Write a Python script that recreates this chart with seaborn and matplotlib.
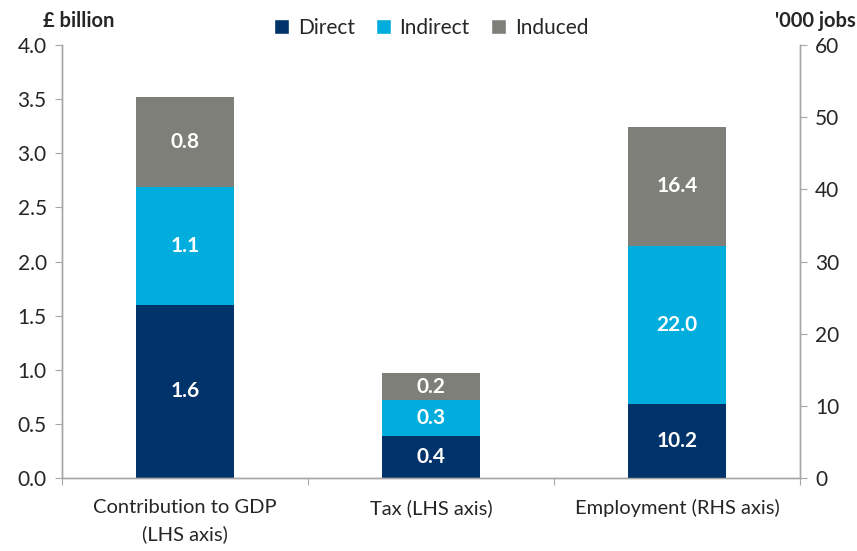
import numpy as np
import pandas as pd
import matplotlib
matplotlib.use('Agg')
import matplotlib.pyplot as plt
import seaborn as sns
from matplotlib.patches import Patch

# dados
categorias = ['Contribution to GDP\n(LHS axis)', 'Tax (LHS axis)', 'Employment (RHS axis)']
componentes = ['Direct', 'Indirect', 'Induced']
direct = [1.60, 0.39, 10.2]
indirect = [1.09, 0.33, 22.0]
induced = [0.83, 0.25, 16.4]
eixo_direito = [False, False, True]
cores = ['#00336A', '#00ADDD', '#7F7F7A']

sns.set_style('white')
plt.rcParams['font.family'] = ['Lato', 'DejaVu Sans']

fig = plt.figure(figsize=(8.57, 5.51), dpi=100)
ax = fig.add_axes([62 / 857, 1 - 478 / 551, 738 / 857, 433 / 551])
ax2 = ax.twinx()

valores = np.array([direct, indirect, induced])
direita = np.array(eixo_direito)

for eixo, mascara in [(ax, ~direita), (ax2, direita)]:
    base = np.zeros(len(categorias))
    for i, nome in enumerate(componentes):
        v = np.where(mascara, valores[i], 0.0)
        df = pd.DataFrame({'cat': categorias, 'val': v})
        sns.barplot(data=df, x='cat', y='val', order=categorias, color=cores[i],
                    saturation=1, width=0.4, bottom=base, ax=eixo, errorbar=None,
                    linewidth=0, edgecolor='none')
        for j in range(len(categorias)):
            if mascara[j]:
                eixo.text(j, base[j] + v[j] / 2, f'{v[j]:.1f}', ha='center', va='center',
                          color='white', fontweight='bold', fontsize=15)
        base = base + v

ax.set_ylim(0, 4)
ax2.set_ylim(0, 60)
ax.set_xlim(-0.5, 2.5)
ax.set_yticks(np.arange(0, 4.01, 0.5))
ax.set_yticklabels([f'{t:.1f}' for t in np.arange(0, 4.01, 0.5)])
ax2.set_yticks(np.arange(0, 61, 10))

# ticks do eixo x nas fronteiras das categorias
ax.set_xticks([-0.5, 0.5, 1.5, 2.5])
ax.set_xticklabels([])
ax.set_xticks([0, 1, 2], minor=True)
ax.set_xticklabels(categorias, minor=True, fontsize=14.5)
ax.tick_params(axis='x', which='minor', length=0, pad=15)
ax.tick_params(axis='x', which='major', length=5, color='#A6A6A6', direction='out', bottom=True)
ax.set_xlabel('')
ax.set_ylabel('')
ax2.set_xlabel('')
ax2.set_ylabel('')

ax.tick_params(axis='y', labelsize=15, length=5, color='#A6A6A6', direction='out', left=True, pad=6)
ax2.tick_params(axis='y', labelsize=15, length=5, color='#A6A6A6', direction='out', right=True, pad=6)

for a in [ax, ax2]:
    a.spines['top'].set_visible(False)
    for lado in ['left', 'right', 'bottom']:
        a.spines[lado].set_color('#A6A6A6')
        a.spines[lado].set_linewidth(1)
    a.grid(False)

for l in ax.get_xticklabels(minor=True):
    l.set_linespacing(1.6)

handles = [Patch(facecolor=c, label=n) for c, n in zip(cores, componentes)]
ax.legend(handles=handles, loc='center', bbox_to_anchor=(0.5, 1 + 17 / 433), ncol=3,
          frameon=False, fontsize=15, handlelength=0.75, handleheight=0.75,
          handletextpad=0.4, columnspacing=1.0)

fig.text(114 / 857, 1 - 21 / 551, '£ billion', fontweight='bold', fontsize=14.5, va='center', ha='right')
fig.text(856 / 857, 1 - 21 / 551, "'000 jobs", fontweight='bold', fontsize=14.5, va='center', ha='right')

fig.savefig('out.png', dpi=100)
